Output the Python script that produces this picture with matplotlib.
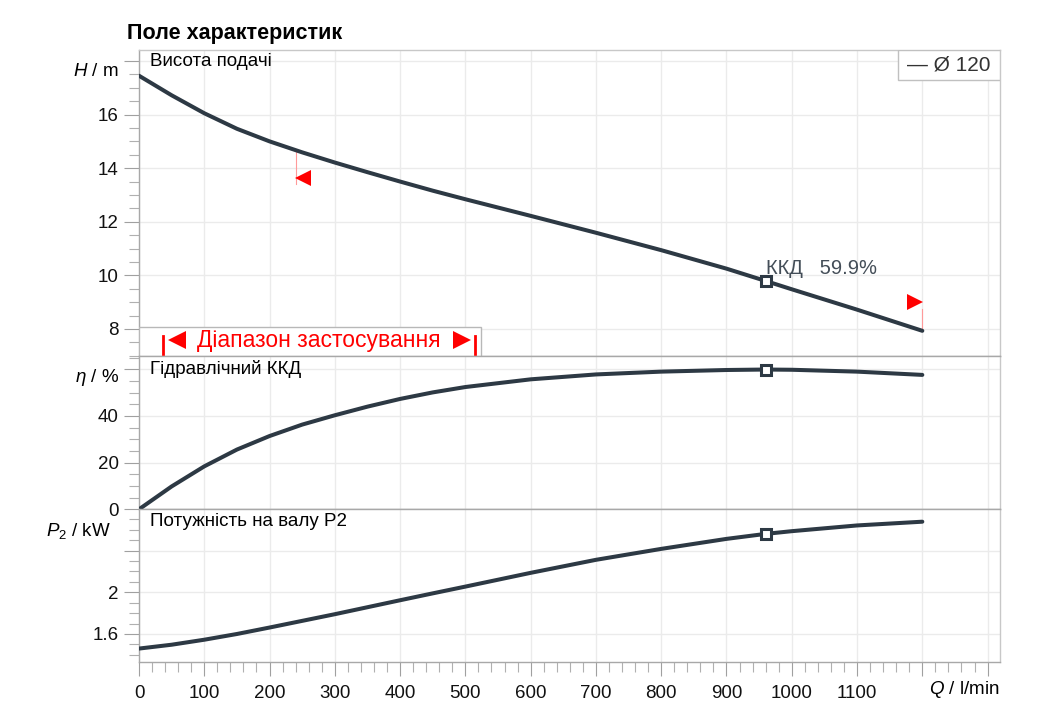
import matplotlib
matplotlib.use("Agg")
import matplotlib.pyplot as plt
import matplotlib.transforms as mtransforms
from matplotlib.patches import Rectangle
from matplotlib.ticker import MultipleLocator, FixedLocator

plt.rcParams['font.family'] = ['Liberation Sans', 'DejaVu Sans']
plt.rcParams['mathtext.fontset'] = 'custom'
plt.rcParams['mathtext.it'] = 'Liberation Sans:italic'
plt.rcParams['mathtext.rm'] = 'Liberation Sans'

# pump curve data, Ø 120
q = [0, 50, 100, 150, 200, 250, 300, 350, 400, 450, 500, 600, 700, 800, 900, 960, 1000, 1100, 1200]
head = [17.45, 16.72, 16.05, 15.47, 15.0, 14.59, 14.21, 13.85, 13.5, 13.16, 12.84,
        12.22, 11.59, 10.94, 10.25, 9.79, 9.48, 8.72, 7.93]
eff = [0, 9.8, 18.4, 25.6, 31.4, 36.3, 40.3, 44.0, 47.3, 50.1, 52.4,
       55.7, 57.8, 59.0, 59.7, 59.9, 59.8, 59.0, 57.6]
power = [1.46, 1.497, 1.545, 1.60, 1.662, 1.726, 1.79, 1.857, 1.924, 1.99, 2.055,
         2.187, 2.312, 2.417, 2.513, 2.561, 2.587, 2.642, 2.678]

duty_q = 960
duty_head = 9.79
duty_eff = 59.9
duty_power = 2.561

range_q = [240, 1200]
range_mark_h = [13.64, 9.0]
range_line_h = [(14.7, 13.4), (8.75, 8.0)]

x_ticks = [0, 100, 200, 300, 400, 500, 600, 700, 800, 900, 1000, 1100, 1200, 1300]
x_labels = ['0', '100', '200', '300', '400', '500', '600', '700', '800', '900', '1000', '1100', '', '']
h_ticks = [8, 10, 12, 14, 16, 18]
h_labels = ['8', '10', '12', '14', '16', '']
e_ticks = [0, 20, 40, 60]
e_labels = ['0', '20', '40', '']
p_ticks = [1.6, 2.0, 2.4, 2.8]
p_labels = ['1.6', '2', '', '']

W, H = 1043, 721
line_col = '#2d3944'
grid_col = '#ebebeb'
spine_col = '#a8a8a8'
fs = 13.5


def rect(x0, y0, x1, y1):
    return [x0 / W, 1 - y1 / H, (x1 - x0) / W, (y1 - y0) / H]


fig = plt.figure(figsize=(W / 100, H / 100), dpi=100)
ax_h = fig.add_axes(rect(139, 50, 1000, 356))
ax_e = fig.add_axes(rect(139, 356, 1000, 509.3))
ax_p = fig.add_axes(rect(139, 509.3, 1000, 661.7))

panels = [
    (ax_h, head, duty_head, (6.99, 18.41), h_ticks, h_labels, 0.5),
    (ax_e, eff, duty_eff, (0, 65.7), e_ticks, e_labels, 5),
    (ax_p, power, duty_power, (1.334, 2.797), p_ticks, p_labels, 0.1),
]
for ax, y, yd, ylim, yt, yl, ymin in panels:
    ax.plot(q, y, color=line_col, lw=2.9, solid_capstyle='round', solid_joinstyle='round', zorder=4)
    ax.plot([duty_q], [yd], marker='s', ms=7.5, mfc='white', mec=line_col, mew=2.2, zorder=5)
    ax.set_xlim(0, 1319)
    ax.set_ylim(*ylim)
    ax.yaxis.set_major_locator(FixedLocator(yt))
    ax.set_yticklabels(yl)
    ax.yaxis.set_minor_locator(MultipleLocator(ymin))
    ax.xaxis.set_major_locator(FixedLocator(x_ticks))
    ax.xaxis.set_minor_locator(MultipleLocator(20))
    ax.grid(True, which='major', color=grid_col, lw=1, zorder=0)
    ax.tick_params(axis='y', which='major', length=11, width=0.8, color='#a0a0a0',
                   labelsize=fs, pad=3.5, labelcolor='#111111')
    ax.tick_params(axis='y', which='minor', length=7.5, width=0.8, color='#b0b0b0')
    for s in ax.spines.values():
        s.set_color(spine_col)
        s.set_linewidth(1)
    ax.spines['right'].set_color('#c8c8c8')

for ax in (ax_h, ax_e):
    ax.tick_params(axis='x', which='both', length=0, labelbottom=False)

ax_p.set_xticklabels(x_labels)
ax_p.tick_params(axis='x', which='major', length=10, width=0.8, color='#a0a0a0',
                 labelsize=fs, pad=7, labelcolor='#111111')
ax_p.tick_params(axis='x', which='minor', length=7.5, width=0.8, color='#b0b0b0')
ax_h.spines['top'].set_color('#c8c8c8')

# operating range markers
for qq, hm, (ya, yb), mk, dx in zip(range_q, range_mark_h, range_line_h, ['<', '>'], [7.5, -7.5]):
    ax_h.plot([qq, qq], [ya, yb], color='#ff9a9a', lw=0.8, zorder=3)
    tr = mtransforms.offset_copy(ax_h.transData, fig=fig, x=dx * 0.72, y=0, units='points')
    ax_h.plot([qq], [hm], marker=mk, ms=11, color='#ff0000', mew=0, transform=tr, zorder=6)

# range label box
ax_h.add_patch(Rectangle((0, 0), 0.397, 0.096, transform=ax_h.transAxes, facecolor='white',
                         edgecolor='#b8b8b8', lw=1, zorder=6))
for xb in (0.028, 0.390):
    ax_h.plot([xb, xb], [0.006, 0.066], transform=ax_h.transAxes, color='#ff0000', lw=2, zorder=7)
ax_h.plot([0.0445], [0.052], transform=ax_h.transAxes, marker='<', ms=12.5, color='#ff0000', mew=0, zorder=7)
ax_h.plot([0.3755], [0.052], transform=ax_h.transAxes, marker='>', ms=12.5, color='#ff0000', mew=0, zorder=7)
ax_h.text(0.2085, 0.05, 'Діапазон застосування', transform=ax_h.transAxes, color='#ff0000',
          fontsize=16.5, ha='center', va='center', zorder=7)

# duty point label
ax_h.annotate('ККД   59.9%', xy=(duty_q, duty_head), xytext=(0.5, 9), textcoords='offset points',
              fontsize=14.5, color='#444e58', ha='left', va='center', zorder=6)

# legend box
ax_h.add_patch(Rectangle((0.8815, 0.902), 0.1185, 0.098, transform=ax_h.transAxes, facecolor='white',
                         edgecolor='#c0c0c0', lw=1, zorder=6))
ax_h.text(0.9408, 0.951, '— Ø 120', transform=ax_h.transAxes, fontsize=15, color='#333333',
          ha='center', va='center', zorder=7)

# panel titles
fig.text(150 / W, 1 - 62 / H, 'Висота подачі', fontsize=fs, va='center')
fig.text(150 / W, 1 - 369 / H, 'Гідравлічний ККД', fontsize=fs, va='center')
fig.text(150 / W, 1 - 522 / H, 'Потужність на валу P2', fontsize=fs, va='center')

# axis labels
fig.text(119 / W, 1 - 72 / H, '$H$ / m', fontsize=fs, ha='right', va='center')
fig.text(119 / W, 1 - 378 / H, r'$\eta$ / %', fontsize=fs, ha='right', va='center')
fig.text(111 / W, 1 - 531 / H, '$P_2$ / kW', fontsize=fs, ha='right', va='center')
fig.text(1000 / W, 1 - 690 / H, '$Q$ / l/min', fontsize=fs, ha='right', va='center')

fig.text(127 / W, 1 - 33 / H, 'Поле характеристик', fontsize=15.5, fontweight='bold', va='center')

fig.savefig('out.png', dpi=100)
